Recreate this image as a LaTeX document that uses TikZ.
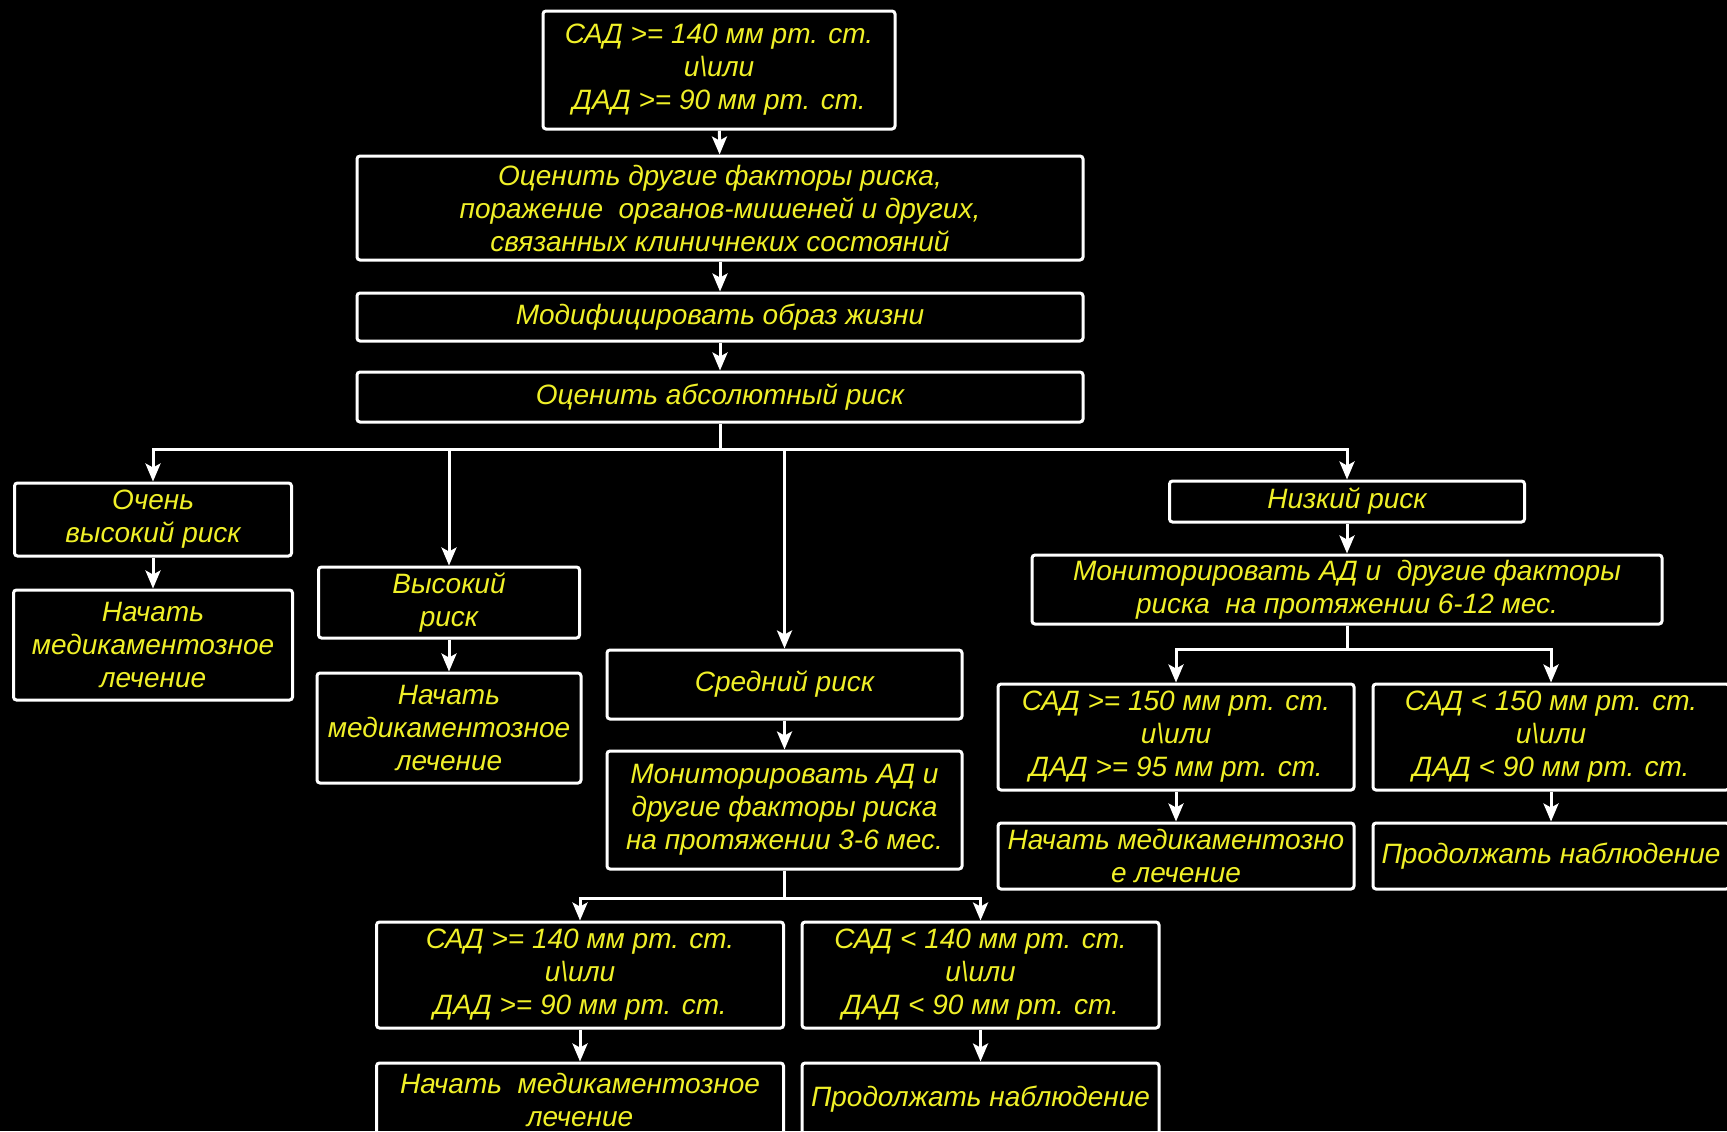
\documentclass[tikz,border=0pt]{standalone}
\usepackage{fontspec}
\setmainfont{Liberation Sans}
\usepackage{tikz}
\usetikzlibrary{arrows.meta}
\definecolor{riskyellow}{RGB}{240,240,40}
\newcommand{\boxfont}{\fontsize{14pt}{16.5pt}\selectfont\itshape}
\tikzset{
    box/.style={draw=white, line width=1.5pt, rounded corners=1.5pt, text=riskyellow,
        font=\boxfont, align=center, inner sep=0pt, rectangle},
    link/.style={draw=white, line width=1.5pt}
}

\begin{document}
\begin{tikzpicture}[x=0.5pt, y=-0.5pt, >={Stealth[length=9pt,width=7.5pt,inset=2pt]}]
    \clip (0,0) rectangle (1727,1131);
    \fill[black] (0,0) rectangle (1727,1131);

    \node (sadtop) at (719,70) [box,minimum width=176pt,minimum height=59pt] {САД >= 140 мм рт. ст.\\и\textbackslash или\\ДАД >= 90 мм рт. ст.};
    \node (assess) at (720,208) [box,minimum width=363pt,minimum height=52pt] {Оценить другие факторы риска,\\поражение\ \ органов-мишеней и других,\\связанных клиничнеких состояний};
    \node (modify) at (720,317) [box,minimum width=363pt,minimum height=24pt] {Модифицировать образ жизни};
    \node (absrisk) at (720,397) [box,minimum width=363pt,minimum height=25pt] {Оценить абсолютный риск};

    \node (vhigh) at (153,519.5) [box,minimum width=138.5pt,minimum height=36.5pt] {Очень\\высокий риск};
    \node (treat1) at (153,645) [box,minimum width=139.5pt,minimum height=55pt] {Начать\\медикаментозное\\лечение};

    \node (high) at (449,602.5) [box,minimum width=130.5pt,minimum height=35.5pt] {Высокий\\риск};
    \node (treat2) at (449,728) [box,minimum width=132pt,minimum height=55pt] {Начать\\медикаментозное\\лечение};

    \node (mid) at (784.5,684.5) [box,minimum width=177.5pt,minimum height=34.5pt] {Средний риск};
    \node (mon36) at (784.5,810) [box,minimum width=177.5pt,minimum height=59pt] {Мониторировать АД и\\другие факторы риска\\на протяжении 3-6 мес.};
    \node (sad140) at (580,975) [box,minimum width=203.5pt,minimum height=53pt] {САД >= 140 мм рт. ст.\\и\textbackslash или\\ДАД >= 90 мм рт. ст.};
    \node (sadl140) at (980.5,975) [box,minimum width=178.5pt,minimum height=53pt] {САД < 140 мм рт. ст.\\и\textbackslash или\\ДАД < 90 мм рт. ст.};
    \node (treat3) at (580,1099.5) [box,minimum width=203.5pt,minimum height=36.5pt] {Начать\ \ медикаментозное\\лечение};
    \node (cont1) at (980.5,1099.5) [box,minimum width=178.5pt,minimum height=36.5pt] {Продолжать наблюдение};

    \node (low) at (1347,501.5) [box,minimum width=177.5pt,minimum height=20.5pt] {Низкий риск};
    \node (mon612) at (1347,589.5) [box,minimum width=315pt,minimum height=34.5pt] {Мониторировать АД и\ \ другие факторы\\риска\ \ на протяжении 6-12 мес.};
    \node (sad150) at (1176,737) [box,minimum width=178pt,minimum height=53pt] {САД >= 150 мм рт. ст.\\и\textbackslash или\\ДАД >= 95 мм рт. ст.};
    \node (sadl150) at (1551,737) [box,minimum width=178pt,minimum height=53pt] {САД < 150 мм рт. ст.\\и\textbackslash или\\ДАД < 90 мм рт. ст.};
    \node (treat4) at (1176,856) [box,minimum width=178pt,minimum height=33pt] {Начать медикаментозно\\е лечение};
    \node (cont2) at (1551,856) [box,minimum width=178pt,minimum height=33pt] {Продолжать наблюдение};

    \draw[link,->] (sadtop) -- (assess);
    \draw[link,->] (assess) -- (modify);
    \draw[link,->] (modify) -- (absrisk);

    \draw[link] (absrisk.south) -- ++(0,26) coordinate (hubrisk);
    \draw[link,->] (hubrisk) -| (vhigh.north);
    \draw[link,->] (hubrisk) -| (high.north);
    \draw[link,->] (hubrisk) -| (mid.north);
    \draw[link,->] (hubrisk) -| (low.north);

    \draw[link,->] (vhigh) -- (treat1);
    \draw[link,->] (high) -- (treat2);
    \draw[link,->] (mid) -- (mon36);

    \draw[link] (mon36.south) -- ++(0,28) coordinate (hubmid);
    \draw[link,->] (hubmid) -| (sad140.north);
    \draw[link,->] (hubmid) -| (sadl140.north);
    \draw[link,->] (sad140) -- (treat3);
    \draw[link,->] (sadl140) -- (cont1);

    \draw[link,->] (low) -- (mon612);
    \draw[link] (mon612.south) -- ++(0,24) coordinate (hublow);
    \draw[link,->] (hublow) -| (sad150.north);
    \draw[link,->] (hublow) -| (sadl150.north);
    \draw[link,->] (sad150) -- (treat4);
    \draw[link,->] (sadl150) -- (cont2);
\end{tikzpicture}
\end{document}
